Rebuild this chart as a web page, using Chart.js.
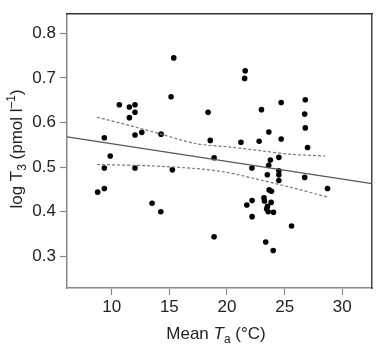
<!DOCTYPE html>
<html>
<head>
<meta charset="utf-8">
<script src="https://cdn.jsdelivr.net/npm/chart.js@4.4.1/dist/chart.umd.min.js"></script>
<style>
  html, body { margin: 0; padding: 0; background: #fff; }
  #wrap { width: 376px; height: 344px; }
</style>
</head>
<body>
<div id="wrap"><canvas id="chart" width="376" height="344"></canvas></div>
<script>
// mean air temperature (x) and log T3 (y)
const tempC = [15.15, 15.38, 10.66, 11.53, 12.02, 12.02, 11.53, 12.02, 12.61, 14.28,
  9.36, 9.87, 9.36, 12.02, 15.26, 8.78, 9.36, 13.50, 14.26, 21.58,
  21.53, 18.36, 22.99, 24.70, 26.79, 26.74, 26.79, 23.63, 24.70, 18.55,
  21.21, 22.79, 26.99, 18.88, 23.76, 24.50, 23.62, 22.16, 23.50, 24.50,
  24.50, 24.50, 26.74, 28.72, 23.66, 23.86, 23.21, 23.25, 22.18, 21.72,
  23.83, 23.51, 23.44, 23.57, 24.03, 22.18, 25.60, 18.88, 23.36, 24.01]
const logT3 = [0.658, 0.745, 0.640, 0.635, 0.640, 0.623, 0.611, 0.572, 0.578, 0.574,
  0.566, 0.525, 0.498, 0.498, 0.494, 0.444, 0.452, 0.419, 0.400, 0.716,
  0.699, 0.623, 0.629, 0.645, 0.651, 0.619, 0.588, 0.579, 0.563, 0.560,
  0.556, 0.558, 0.544, 0.521, 0.516, 0.522, 0.504, 0.498, 0.483, 0.492,
  0.483, 0.470, 0.477, 0.452, 0.449, 0.446, 0.431, 0.424, 0.425, 0.415,
  0.421, 0.412, 0.406, 0.400, 0.399, 0.389, 0.368, 0.344, 0.332, 0.313]

// regression line and its confidence band
const fitX = [6.12, 32.58]
const fitY = [0.568, 0.463]
const ciUpperX = [8.73, 11.59, 14.28, 17.23, 20.27, 22.88, 25.49, 28.52]
const ciUpperY = [0.612, 0.593, 0.574, 0.553, 0.545, 0.537, 0.529, 0.525]
const ciLowerX = [8.73, 13.33, 17.23, 19.84, 22.62, 25.49, 28.72]
const ciLowerY = [0.506, 0.503, 0.497, 0.489, 0.473, 0.455, 0.433]

const xTicks = [10, 15, 20, 25, 30]
const yTicks = [0.3, 0.4, 0.5, 0.6, 0.7, 0.8]

const FONT = "'Liberation Sans', Arial, sans-serif"

function toPoints(xs, ys) {
    const pts = []
    for (let i in xs) {
        pts.push({ x: xs[i], y: ys[i] })
    }
    return pts
}

// axis titles need italics / sub / superscripts so they are drawn by hand
function drawRuns(ctx, runs, cx, cy) {
    let total = 0
    for (let r of runs) {
        ctx.font = (r.style || "") + " " + r.size + "px " + FONT
        r.w = ctx.measureText(r.text).width
        total += r.w
    }
    let x = cx - total / 2
    for (let r of runs) {
        ctx.font = (r.style || "") + " " + r.size + "px " + FONT
        ctx.fillText(r.text, x, cy + (r.dy || 0))
        x += r.w
    }
}

const axisTitles = {
    id: "axisTitles",
    afterDraw(chart) {
        const ctx = chart.ctx
        ctx.save()
        ctx.fillStyle = "#222"
        ctx.textBaseline = "alphabetic"
        drawRuns(ctx, [
            { text: "Mean ", size: 17 },
            { text: "T", size: 17, style: "italic" },
            { text: "a", size: 12, dy: 4 },
            { text: " (°C)", size: 17 }
        ], 216, 339)

        ctx.translate(22, 149)
        ctx.rotate(-Math.PI / 2)
        drawRuns(ctx, [
            { text: "log T", size: 17 },
            { text: "3", size: 12, dy: 4 },
            { text: " (pmol l", size: 17 },
            { text: "–1", size: 12, dy: -7 },
            { text: ")", size: 17 }
        ], 0, 0)
        ctx.restore()
    }
}

const lineStyle = {
    type: "line",
    showLine: true,
    pointRadius: 0,
    fill: false,
    borderWidth: 1.2
}

const data = {
    datasets: [
        Object.assign({}, lineStyle, { data: toPoints(fitX, fitY), borderColor: "#555", borderWidth: 1.3 }),
        Object.assign({}, lineStyle, { data: toPoints(ciUpperX, ciUpperY), borderColor: "#777", borderDash: [3, 2], tension: 0.3 }),
        Object.assign({}, lineStyle, { data: toPoints(ciLowerX, ciLowerY), borderColor: "#777", borderDash: [3, 2], tension: 0.3 }),
        {
            type: "scatter",
            data: toPoints(tempC, logT3),
            pointRadius: 2.8,
            pointBackgroundColor: "#000",
            pointBorderWidth: 0,
            borderColor: "#000"
        }
    ]
}

const config = {
    type: "scatter",
    data: data,
    options: {
        responsive: false,
        animation: false,
        layout: { padding: 0 },
        plugins: { legend: { display: false }, tooltip: { enabled: false } },
        scales: {
            x: {
                type: "linear",
                position: "bottom",
                min: 6.12,
                max: 32.58,
                afterBuildTicks: (s) => { s.ticks = xTicks.map(v => ({ value: v })) },
                afterFit: (s) => { s.height = 56 },
                grid: { drawOnChartArea: false, drawTicks: true, tickLength: 7, color: "#888", tickWidth: 1.2 },
                border: { color: "#888", width: 1.5 },
                ticks: { color: "#222", padding: 2, font: { family: FONT, size: 17 }, maxRotation: 0 }
            },
            y: {
                type: "linear",
                position: "left",
                min: 0.229,
                max: 0.843,
                afterBuildTicks: (s) => { s.ticks = yTicks.map(v => ({ value: v })) },
                afterFit: (s) => { s.width = 67 },
                grid: { drawOnChartArea: false, drawTicks: true, tickLength: 7, color: "#888", tickWidth: 1.2 },
                border: { color: "#888", width: 1.5 },
                ticks: { color: "#222", padding: 4, font: { family: FONT, size: 17 }, callback: (v) => v.toFixed(1) }
            },
            // top and right edges of the frame
            xTop: {
                type: "linear",
                position: "top",
                min: 6.12,
                max: 32.58,
                afterFit: (s) => { s.height = 11 },
                grid: { display: false },
                border: { color: "#333", width: 1.5 },
                ticks: { display: false }
            },
            yRight: {
                type: "linear",
                position: "right",
                min: 0.229,
                max: 0.843,
                afterFit: (s) => { s.width = 4 },
                grid: { display: false },
                border: { color: "#444", width: 1.5 },
                ticks: { display: false }
            }
        }
    },
    plugins: [axisTitles]
}

new Chart(document.getElementById("chart"), config)
</script>
</body>
</html>
